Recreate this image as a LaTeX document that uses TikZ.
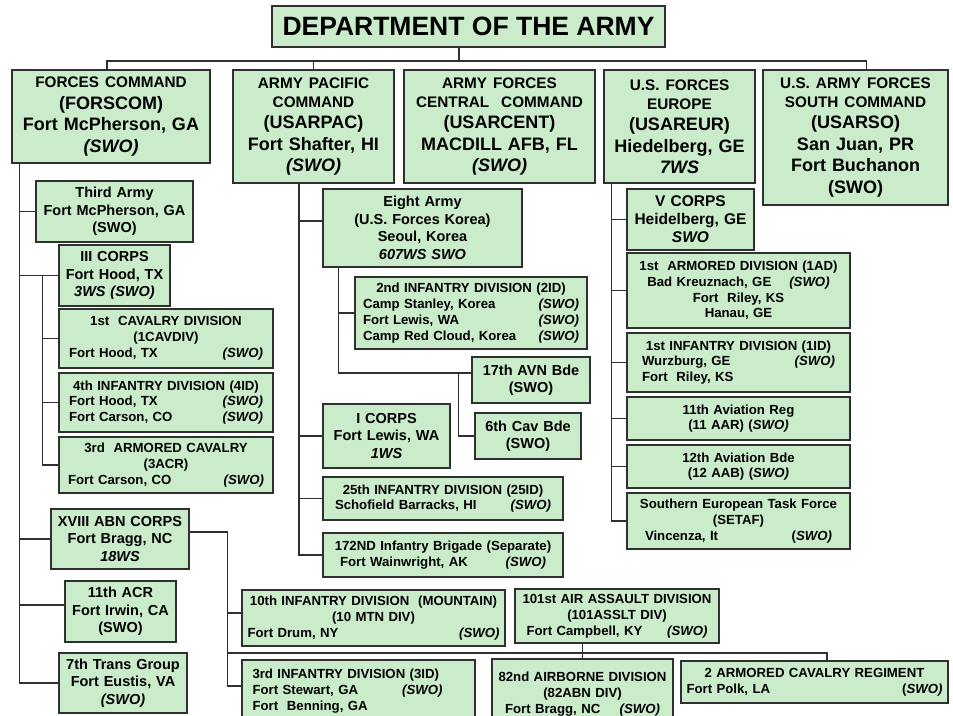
\documentclass[tikz,border=0pt]{standalone}
\usepackage{fontspec}
\setmainfont{Liberation Sans}
\definecolor{armygreen}{RGB}{202,236,202}
\definecolor{rule}{RGB}{48,48,48}
\newcommand{\swo}{\textit{(SWO)}}
\newcommand{\cmdhead}{\fontsize{15.3}{19}\selectfont}
\newcommand{\locrow}[3][\linewidth]{\makebox[#1]{#2\hfill#3}}
\begin{document}
\begin{tikzpicture}[x=1pt,y=-1pt,
  box/.style={draw=rule,line width=1.4pt,fill=armygreen,inner sep=2pt,align=center},
  title/.style={box,font=\bfseries\fontsize{26.5}{30}\selectfont},
  cmd/.style={box,minimum height=113pt,font=\bfseries\fontsize{18}{21.5}\selectfont},
  unit/.style={box,font=\bfseries\fontsize{14.5}{17.5}\selectfont},
  div/.style={box,font=\bfseries\fontsize{13.2}{15.8}\selectfont},
  link/.style={draw=rule,line width=1.3pt}]
 \useasboundingbox (0,0) rectangle (953,715);
 \clip (0,0) rectangle (953,715);

 \node[title,minimum width=393pt,minimum height=41pt] (dept) at (468.5,26.5) {DEPARTMENT OF THE ARMY};

 \node[cmd,minimum width=198pt,minimum height=93pt,text width=190pt] (forscom) at (111,116.5) {{\cmdhead FORCES COMMAND\par}(FORSCOM)\\Fort McPherson, GA\\\swo};
 \node[cmd,minimum width=161pt,text width=155pt] (usarpac) at (313.5,126.5) {{\cmdhead ARMY PACIFIC\\COMMAND\par}(USARPAC)\\Fort Shafter, HI\\\swo};
 \node[cmd,minimum width=191pt,text width=185pt] (usarcent) at (499.5,126.5) {{\cmdhead ARMY FORCES\\CENTRAL\ \ COMMAND\par}(USARCENT)\\MACDILL AFB, FL\\\swo};
 \node[cmd,minimum width=151pt,text width=145pt] (usareur) at (679.5,126.5) {{\cmdhead U.S. FORCES\\EUROPE\par}(USAREUR)\\Hiedelberg, GE\\\textit{7WS}};
 \node[cmd,minimum width=185pt,minimum height=135pt,text width=178pt] (usarso) at (855.5,137.5) {{\cmdhead U.S. ARMY FORCES\\SOUTH COMMAND\par}(USARSO)\\San Juan, PR\\Fort Buchanon\\(SWO)};

 \node[unit,minimum width=157pt,minimum height=61pt,text width=150pt] (third) at (114.5,211.5) {Third Army\\Fort McPherson, GA\\(SWO)};
 \node[unit,minimum width=111pt,minimum height=61pt,text width=105pt] (iiicorps) at (114.5,275.5) {III CORPS\\Fort Hood, TX\\\textit{3WS (SWO)}};
 \node[div,minimum width=214pt,minimum height=59pt,text width=194pt] (cav1) at (166,338.5) {1st\ \ CAVALRY DIVISION\\(1CAVDIV)\\\locrow{Fort Hood, TX}{\swo}};
 \node[div,minimum width=214pt,minimum height=59pt,text width=194pt] (id4) at (166,402.5) {4th INFANTRY DIVISION (4ID)\\\locrow{Fort Hood, TX}{\swo}\\\locrow{Fort Carson, CO}{\swo}};
 \node[div,minimum width=214pt,minimum height=56pt,text width=196pt] (acr3) at (166,465) {3rd\ \ ARMORED CAVALRY\\(3ACR)\\\locrow{Fort Carson, CO}{\swo}};
 \node[unit,minimum width=138pt,minimum height=60pt,text width=132pt] (xviii) at (120,539) {XVIII ABN CORPS\\Fort Bragg, NC\\\textit{18WS}};
 \node[unit,minimum width=111pt,minimum height=61pt,text width=105pt] (acr11) at (120.5,611.5) {11th ACR\\Fort Irwin, CA\\(SWO)};
 \node[unit,minimum width=128pt,minimum height=60pt,text width=122pt] (trans7) at (123,683) {7th Trans Group\\Fort Eustis, VA\\\swo};

 \node[unit,minimum width=199pt,minimum height=78pt,text width=192pt] (eighth) at (422.5,228) {Eight Army\\(U.S. Forces Korea)\\Seoul, Korea\\\textit{607WS SWO}};
 \node[div,minimum width=232pt,minimum height=72pt,text width=216pt] (id2) at (471,313) {2nd INFANTRY DIVISION (2ID)\\\locrow{Camp Stanley, Korea}{\swo}\\\locrow{Fort Lewis, WA}{\swo}\\\locrow{Camp Red Cloud, Korea}{\swo}};
 \node[unit,minimum width=118pt,minimum height=46pt,text width=110pt] (avn17) at (531,380) {17th AVN Bde\\(SWO)};
 \node[unit,minimum width=106pt,minimum height=46pt,text width=100pt] (cav6) at (528,436) {6th Cav Bde\\(SWO)};
 \node[unit,minimum width=127pt,minimum height=64pt,text width=120pt] (icorps) at (386.5,436) {I CORPS\\Fort Lewis, WA\\\textit{1WS}};
 \node[div,minimum width=240pt,minimum height=43pt,text width=216pt] (id25) at (443,498.5) {25th INFANTRY DIVISION (25ID)\\\locrow{Schofield Barracks, HI}{\swo}};
 \node[div,minimum width=240pt,minimum height=44pt,text width=218pt] (bde172) at (443,555) {172ND Infantry Brigade (Separate)\\\locrow[206pt]{Fort Wainwright, AK}{\swo}};

 \node[unit,font=\bfseries\fontsize{15.5}{18}\selectfont,minimum width=127pt,minimum height=61pt,text width=120pt] (vcorps) at (690.5,219.5) {V CORPS\\Heidelberg, GE\\\textit{SWO}};
 \node[div,minimum width=223pt,minimum height=75pt,text width=210pt] (ad1) at (738.5,290.5) {1st\ \ ARMORED DIVISION (1AD)\\Bad Kreuznach, GE\hspace{18pt}\swo\\Fort\ \ Riley, KS\\Hanau, GE};
 \node[div,minimum width=223pt,minimum height=59pt,text width=200pt] (id1) at (738.5,362.5) {1st INFANTRY DIVISION (1ID)\\\locrow[193pt]{Wurzburg, GE}{\swo}\\\locrow[193pt]{Fort\ \ Riley, KS}{}};
 \node[div,minimum width=223pt,minimum height=43pt,text width=210pt] (avreg11) at (738.5,418.5) {11th Aviation Reg\\(11 AAR) (\textit{SWO)}};
 \node[div,minimum width=223pt,minimum height=43pt,text width=210pt] (av12) at (738.5,466.5) {12th Aviation Bde\\(12 AAB) (\textit{SWO)}};
 \node[div,minimum width=223pt,minimum height=56pt,text width=205pt] (setaf) at (738.5,521) {Southern European Task Force\\(SETAF)\\\locrow[187pt]{Vincenza, It}{(\textit{SWO)}}};

 \node[div,minimum width=263pt,minimum height=56pt,text width=252pt] (id10) at (373.5,618) {10th INFANTRY DIVISION\ \ (MOUNTAIN)\\(10 MTN DIV)\\\locrow{Fort Drum, NY}{\swo}};
 \node[div,minimum width=204pt,minimum height=54pt,text width=192pt] (ab101) at (617,616) {101st AIR ASSAULT DIVISION\\(101ASSLT DIV)\\\locrow[181pt]{Fort Campbell, KY}{\swo}};
 \node[div,align=left,minimum width=233pt,minimum height=62pt,text width=212pt] (id3) at (358.5,691) {3rd INFANTRY DIVISION (3ID)\\\locrow[190pt]{Fort Stewart, GA}{\swo}\\Fort\ \ Benning, GA};
 \node[div,minimum width=181pt,minimum height=70pt,text width=172pt] (ab82) at (582.5,694) {82nd AIRBORNE DIVISION\\(82ABN DIV)\\\locrow[155pt]{Fort Bragg, NC}{\swo}};
 \node[div,minimum width=267pt,minimum height=42pt,text width=256pt] (acr2) at (814.5,682) {2 ARMORED CAVALRY REGIMENT\\\locrow{Fort Polk, LA}{(\textit{SWO)}}};

 \coordinate (bus) at (459,61);
 \draw[link] (dept.south -| bus) -- (bus);
 \draw[link] ([xshift=-4]forscom.north) |- (bus) -| ([xshift=11]usarso.north);
 \draw[link] (usarpac.north) -- (usarpac.north |- bus);

 \coordinate (fctrunk) at ([xshift=8]forscom.south west);
 \foreach \n in {third,iiicorps,xviii,trans7}
   \draw[link] (fctrunk) |- (\n.west);
 \draw[link] (fctrunk) |- ([yshift=6.5]acr11.west);
 \coordinate (iiitrunk) at ([xshift=-16]iiicorps.west);
 \foreach \n in {cav1,id4,acr3}
   \draw[link] (iiitrunk) |- (\n.west);

 \coordinate (xvtrunk) at ([xshift=38,yshift=7]xviii.east);
 \draw[link] ([yshift=7]xviii.east) -- (xvtrunk) |- ([yshift=5]id3.west);
 \draw[link] (xvtrunk) |- ([yshift=5]id10.west);
 \coordinate (xvbus) at (227,653);
 \draw[link] (xvbus) -| ([xshift=12.5]acr2.north);
 \draw[link] (ab101.south -| ab82.north) -- (ab82.north);

 \coordinate (pctrunk) at ([xshift=-14.5]usarpac.south);
 \foreach \n in {icorps,id25,bde172}
   \draw[link] (pctrunk) |- (\n.west);
 \draw[link] (pctrunk) |- ([yshift=7]eighth.west);
 \coordinate (eatrunk) at ([xshift=16]eighth.south west);
 \draw[link] (eatrunk) |- (id2.west);
 \draw[link] (eatrunk) |- ([yshift=7]avn17.west);
 \coordinate (eajoin) at ([xshift=-13,yshift=7]avn17.west);
 \draw[link] (eajoin) |- (cav6.west);

 \coordinate (eutrunk) at ([xshift=8]usareur.south west);
 \foreach \n in {vcorps,ad1,id1,avreg11,av12,setaf}
   \draw[link] (eutrunk) |- (\n.west);
\end{tikzpicture}
\end{document}
